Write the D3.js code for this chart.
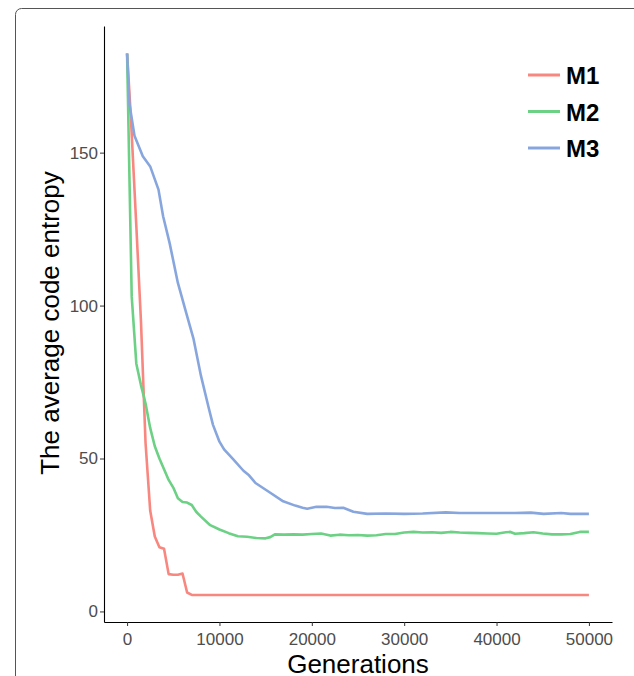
<!DOCTYPE html>
<html>
<head>
<meta charset="utf-8">
<script src="https://cdn.jsdelivr.net/npm/d3@7"></script>
<style>
  body { margin: 0; background: #fff; }
  svg { display: block; font-family: "Liberation Sans", Arial, sans-serif; }
</style>
</head>
<body>
<div id="chart"></div>
<script>
// Series names and colours
const seriesNames = ["M1", "M2", "M3"];
const seriesColors = ["#F8877F", "#6CD184", "#88A6DE"];

// M1
const m1Gen = [0, 400, 1000, 1500, 2000, 2500, 3000, 3500, 4000, 4500, 5000, 5500, 6000, 6500, 7000, 50000];
const m1Val = [182.4, 162, 126, 95, 55, 33, 24.5, 21, 20.5, 12.2, 12, 12, 12.4, 6.2, 5.4, 5.4];

// M2
const m2Gen = [0, 500, 1000, 1500, 2000, 2500, 3000, 3500, 4000, 4500, 5000, 5500, 6000, 6500, 7000, 7500, 8000, 9000, 10000,
  11000, 12000, 13000, 14000, 15000, 15500, 16000, 17000, 18000, 19000, 20000, 21000, 22000, 23000, 24000, 25000, 26000,
  27000, 28000, 29000, 30000, 31000, 32000, 33000, 34000, 35000, 36000, 37000, 38000, 39000, 40000, 41000, 41500, 42000,
  43000, 44000, 45000, 46000, 47000, 48000, 49000, 50000];
const m2Val = [182.4, 103, 81, 74, 68, 60, 54, 50, 46.5, 43, 40.5, 37, 35.8, 35.6, 34.8, 32.5, 31, 28.2, 26.8,
  25.6, 24.6, 24.4, 24, 23.9, 24.3, 25.2, 25.1, 25.2, 25.1, 25.3, 25.5, 24.8, 25.1, 24.9, 25, 24.8,
  24.9, 25.3, 25.3, 25.8, 26, 25.8, 25.9, 25.7, 26, 25.8, 25.7, 25.6, 25.5, 25.4, 25.9, 26, 25.4,
  25.6, 25.9, 25.5, 25.2, 25.2, 25.3, 26, 26];

// M3
const m3Gen = [0, 250, 800, 1700, 2500, 3400, 3900, 4600, 5500, 6400, 7200, 8000, 8800, 9300, 10000, 10500, 11500, 12600,
  13200, 13900, 15500, 16900, 18200, 19000, 19500, 20500, 21600, 22500, 23400, 24500, 26000, 28000, 30000, 32000, 34500,
  36000, 38000, 40000, 42000, 43700, 45100, 47000, 48000, 50000];
const m3Val = [182.4, 166, 155.5, 148.8, 145.5, 137.9, 129.2, 120.5, 107.4, 97.6, 89, 77, 67, 61, 55.5, 53, 49.7, 46,
  44.5, 42, 38.8, 36, 34.6, 33.9, 33.6, 34.2, 34.2, 33.8, 33.9, 32.6, 31.9, 32, 31.9, 32, 32.4,
  32.2, 32.2, 32.2, 32.2, 32.3, 31.9, 32.2, 31.9, 31.9];

const xTicks = [0, 10000, 20000, 30000, 40000, 50000];
const yTicks = [0, 50, 100, 150];

const width = 634, height = 676;
const svg = d3.select("#chart").append("svg")
  .attr("width", width)
  .attr("height", height);

// panel frame (rounded border running off the page)
svg.append("rect")
  .attr("x", 15.5).attr("y", 8.5)
  .attr("width", 700).attr("height", 700)
  .attr("rx", 6)
  .attr("fill", "none")
  .attr("stroke", "#555")
  .attr("stroke-width", 1);

const xScale = d3.scaleLinear().domain([-2500, 52500]).range([104, 612]);
const yScale = d3.scaleLinear().domain([-3.45, 191.4]).range([622, 26]);

const series = [
  { name: seriesNames[0], color: seriesColors[0], pts: m1Gen.map((g, i) => ({ g: g, v: m1Val[i] })) },
  { name: seriesNames[1], color: seriesColors[1], pts: m2Gen.map((g, i) => ({ g: g, v: m2Val[i] })) },
  { name: seriesNames[2], color: seriesColors[2], pts: m3Gen.map((g, i) => ({ g: g, v: m3Val[i] })) }
];

const line = d3.line()
  .x(d => xScale(d.g))
  .y(d => yScale(d.v));

// draw lines
series.forEach(s => {
  svg.append("path")
    .datum(s.pts)
    .attr("fill", "none")
    .attr("stroke", s.color)
    .attr("stroke-width", 2.6)
    .attr("stroke-linejoin", "round")
    .attr("d", line);
});

// x axis
const xAxis = svg.append("g")
  .attr("transform", "translate(0,622)")
  .call(d3.axisBottom(xScale).tickValues(xTicks).tickFormat(d3.format("d")).tickSize(4).tickPadding(7).tickSizeOuter(0));
xAxis.select(".domain").attr("stroke", "#000").attr("stroke-width", 1.1);
xAxis.selectAll(".tick line").attr("stroke", "#333");
xAxis.selectAll("text").attr("fill", "#4D4D4D").style("font-size", "17px");

// y axis
const yAxis = svg.append("g")
  .attr("transform", "translate(104,0)")
  .call(d3.axisLeft(yScale).tickValues(yTicks).tickSize(4).tickPadding(2).tickSizeOuter(0));
yAxis.select(".domain").attr("stroke", "#000").attr("stroke-width", 1.1);
yAxis.selectAll(".tick line").attr("stroke", "#333");
yAxis.selectAll("text").attr("fill", "#4D4D4D").style("font-size", "17px");

// axis titles
svg.append("text")
  .attr("x", 358).attr("y", 673)
  .attr("text-anchor", "middle")
  .style("font-size", "26px")
  .attr("fill", "#000")
  .text("Generations");

svg.append("text")
  .attr("transform", "translate(59,323) rotate(-90)")
  .attr("text-anchor", "middle")
  .style("font-size", "26px")
  .attr("fill", "#000")
  .text("The average code entropy");

// legend
const legend = svg.append("g")
  .selectAll("g")
  .data(series)
  .enter()
  .append("g")
  .attr("transform", (d, i) => `translate(528, ${75 + i * 36.5})`);

legend.append("line")
  .attr("x1", 0).attr("x2", 32)
  .attr("y1", 0).attr("y2", 0)
  .attr("stroke", d => d.color)
  .attr("stroke-width", 3);

legend.append("text")
  .attr("x", 38)
  .attr("y", 9)
  .style("font-size", "24px")
  .style("font-weight", "bold")
  .attr("fill", "#000")
  .text(d => d.name);
</script>
</body>
</html>
